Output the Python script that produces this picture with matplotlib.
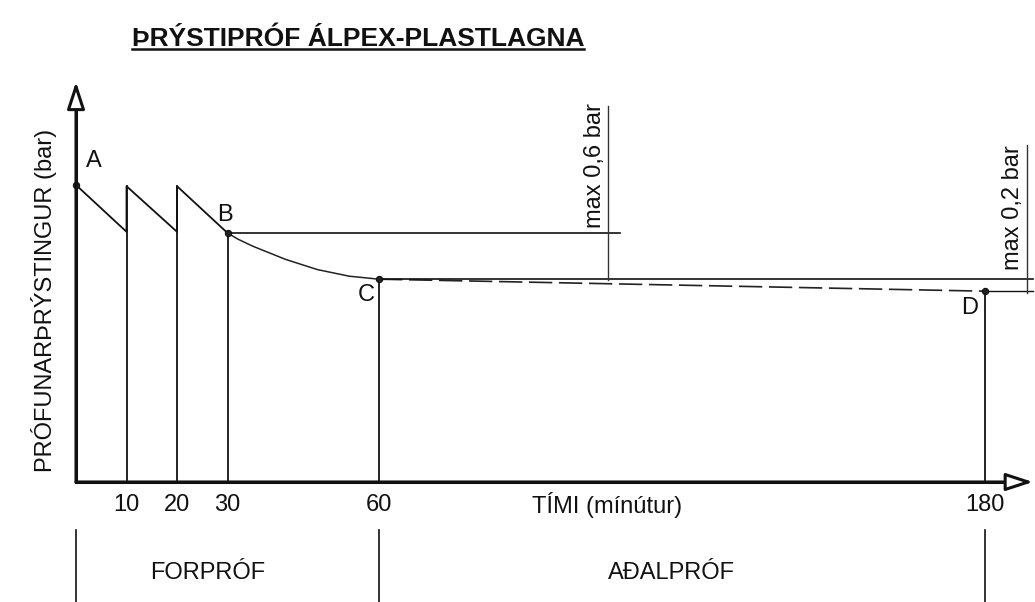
import matplotlib
matplotlib.use("Agg")
import matplotlib.pyplot as plt

plt.rcParams['font.family'] = ['Liberation Sans', 'DejaVu Sans']

# time in minutes, pressure in bar (schematic)
tick_t = [10, 20, 30, 60, 180]
tick_labels = ["10", "20", "30", "60", "180"]

# forpróf: filled three times, pressure falls in between
pre_t = [0, 10, 10, 20, 20, 30]
pre_p = [4.95, 4.17, 4.93, 4.17, 4.93, 4.15]

# settling from B to C
settle_t = [30, 32, 35, 41.5, 47.8, 54.1, 60]
settle_p = [4.15, 4.05, 3.93, 3.71, 3.54, 3.43, 3.38]

# aðalpróf from C to D
main_t = [60, 180]
main_p = [3.38, 3.18]

point_names = ["A", "B", "C", "D"]
point_t = [0, 30, 60, 180]
point_p = [4.95, 4.15, 3.38, 3.18]

# vertical lines from the time axis up to the curve
drop_t = [10, 20, 30, 60, 180]
drop_p = [4.93, 4.93, 4.15, 3.38, 3.18]

t_end = 189.5
p_top = 6.67
b_line_end = 107.7
lim06_t, lim06_p = 105.3, [3.37, 6.27]
lim02_t, lim02_p = 188.3, [3.15, 5.62]

phase_t = [0, 60, 180]
phase_names = ["FORPRÓF", "AÐALPRÓF"]
phase_mid = [26, 118]

fs = 17
ink = '#111111'

fig = plt.figure(figsize=(10.35, 6.02), dpi=100)
ax = fig.add_axes([0, 0, 1, 1])
ax.set_xlim(-15.05, 189.9)
ax.set_ylim(-2.0, 8.033)
ax.axis('off')

# axes with open arrow heads
arrow = dict(arrowstyle='-|>,head_length=1.1,head_width=0.36', mutation_scale=15,
             lw=2.2, fc='white', ec=ink, shrinkA=0, shrinkB=0)
ax.annotate('', xy=(0, p_top), xytext=(0, 0), arrowprops=arrow)
ax.annotate('', xy=(t_end, 0), xytext=(0, 0), arrowprops=arrow)
ax.plot([0, 0], [0, p_top - 0.3], color=ink, lw=2.2)
ax.plot([0, t_end - 3], [0, 0], color=ink, lw=2.2)

# pressure curve
ax.plot(pre_t, pre_p, color=ink, lw=1.3)
ax.plot(settle_t, settle_p, color='#222222', lw=1.1)
ax.plot(main_t, main_p, color='#222222', lw=1.2, linestyle=(0, (14, 4)))

for t, p in zip(drop_t, drop_p):
    ax.plot([t, t], [0, p], color=ink, lw=1.3)

# reference levels and limits
ax.plot([30, b_line_end], [point_p[1]] * 2, color=ink, lw=1.2)
ax.plot([60, t_end], [point_p[2]] * 2, color=ink, lw=1.2)
ax.plot([180, t_end], [point_p[3]] * 2, color=ink, lw=1.0)
ax.plot([lim06_t] * 2, lim06_p, color='#333333', lw=1.0)
ax.plot([lim02_t] * 2, lim02_p, color='#333333', lw=1.0)

ax.plot(point_t, point_p, 'o', ms=4.5, mfc='#222222', mec=ink, mew=0.8)

label_off = {"A": (3.6, 0.40), "B": (-0.5, 0.30), "C": (-2.6, -0.26), "D": (-3.0, -0.28)}
for name, t, p in zip(point_names, point_t, point_p):
    dx, dy = label_off[name]
    ax.text(t + dx, p + dy, name, fontsize=fs, ha='center', va='center', color=ink)

ax.text(lim06_t - 0.35, 5.27, "max 0,6 bar", rotation=90, fontsize=fs,
        ha='right', va='center', color=ink)
ax.text(lim02_t - 0.6, 4.58, "max 0,2 bar", rotation=90, fontsize=fs,
        ha='right', va='center', color=ink)

# time axis labels
for t, lab in zip(tick_t, tick_labels):
    ax.text(t, -0.38, lab, fontsize=fs, ha='center', va='center', color=ink)
ax.text(105.1, -0.38, "TÍMI (mínútur)", fontsize=fs, ha='center', va='center', color=ink)

ax.text(-6.4, 3.03, "PRÓFUNARÞRÝSTINGUR (bar)", rotation=90, fontsize=fs,
        ha='center', va='center', color=ink)

# test phases below the chart
for t in phase_t:
    ax.plot([t, t], [-0.8, -2.0], color=ink, lw=1.2)
for name, mid in zip(phase_names, phase_mid):
    ax.text(mid, -1.52, name, fontsize=fs, ha='center', va='center', color=ink)

title = ax.text(55.8, 7.267, "ÞRÝSTIPRÓF ÁLPEX-PLASTLAGNA", fontsize=19,
                fontweight='bold', ha='center', va='baseline', color=ink)
fig.canvas.draw()
bb = title.get_window_extent()
inv = ax.transData.inverted()
x0 = inv.transform((bb.x0, bb.y0))[0]
x1 = inv.transform((bb.x1, bb.y0))[0]
ax.plot([x0, x1], [7.22, 7.22], color=ink, lw=1.8)

fig.savefig('out.png', dpi=100)
